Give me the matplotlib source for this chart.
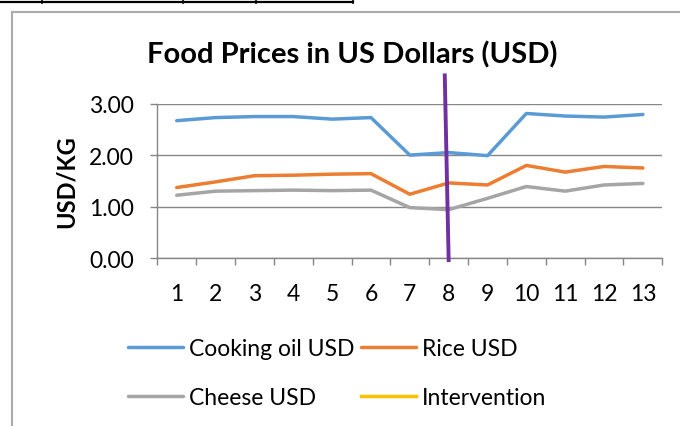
import matplotlib
matplotlib.use("Agg")
import matplotlib.pyplot as plt
from matplotlib.lines import Line2D

# data (USD per kg, periods 1..13)
periods = list(range(1, 14))
cooking_oil = [2.67, 2.73, 2.75, 2.75, 2.70, 2.73, 2.00, 2.05, 1.99, 2.81, 2.76, 2.74, 2.79]
rice = [1.37, 1.48, 1.60, 1.61, 1.63, 1.64, 1.24, 1.46, 1.42, 1.80, 1.67, 1.78, 1.75]
cheese = [1.22, 1.30, 1.31, 1.32, 1.31, 1.32, 0.98, 0.94, 1.16, 1.39, 1.30, 1.42, 1.45]
intervention_period = 8
y_ticks = [0, 1, 2, 3]

plt.rcParams['font.family'] = ['Lato', 'DejaVu Sans']
FS = 16.5

fig = plt.figure(figsize=(6.8, 4.27), dpi=100)
ax = fig.add_axes([0.2313, 0.3934, 0.7427, 0.3614])

l_oil, = ax.plot(periods, cooking_oil, color='#5B9BD5', lw=2.5, label='Cooking oil USD', solid_capstyle='round')
l_rice, = ax.plot(periods, rice, color='#ED7D31', lw=2.5, label='Rice USD', solid_capstyle='round')
l_cheese, = ax.plot(periods, cheese, color='#A5A5A5', lw=2.5, label='Cheese USD', solid_capstyle='round')
# legend entry only, the drawn marker is the purple bar below
l_int, = ax.plot([], [], color='#FFC000', lw=2.5, label='Intervention')

# hand drawn intervention marker
ax.plot([intervention_period - 0.1, intervention_period], [3.55, -0.04],
        color='#7030A0', lw=2.8, clip_on=False, zorder=5)

ax.set_xlim(0.5, 13.5)
ax.set_ylim(0, 3)
ax.set_yticks(y_ticks)
ax.set_yticklabels(['%.2f' % v for v in y_ticks], fontsize=FS)
ax.set_xticks(periods)
ax.set_xticklabels([str(p) for p in periods], fontsize=FS)
ax.set_xticks([p + 0.5 for p in range(0, 14)], minor=True)
ax.tick_params(axis='x', which='major', length=0, pad=18)
ax.tick_params(axis='x', which='minor', length=5, color='#868686', width=1)
ax.tick_params(axis='y', length=5, color='#868686', width=1, pad=12)
ax.grid(axis='y', color='#868686', lw=1)
ax.set_axisbelow(True)
for s in ['top', 'right']:
    ax.spines[s].set_visible(False)
for s in ['left', 'bottom']:
    ax.spines[s].set_color('#868686')
    ax.spines[s].set_linewidth(1)

ax.set_ylabel('USD/KG', fontsize=17, fontweight='bold', labelpad=8)
fig.text(0.518, 0.871, 'Food Prices in US Dollars (USD)', fontsize=21,
         fontweight='bold', ha='center', va='center')

# ncol=2 fills by column, so order handles to read row by row
fig.legend([l_oil, l_cheese, l_rice, l_int],
           ['Cooking oil USD', 'Cheese USD', 'Rice USD', 'Intervention'],
           loc='center', bbox_to_anchor=(0.4956, 0.1241), ncol=2, frameon=False,
           fontsize=FS, handlelength=2.4, handletextpad=0.25, columnspacing=0.3,
           labelspacing=1.25, borderpad=0)

# chart border (left and top visible) and the table edge above it
fig.add_artist(Line2D([11.5 / 680, 11.5 / 680], [0, 1 - 12.5 / 427], color='#ABABAB', lw=1.5))
fig.add_artist(Line2D([11.5 / 680, 1], [1 - 12.5 / 427, 1 - 12.5 / 427], color='#ABABAB', lw=1.5))
fig.add_artist(Line2D([0, 353 / 680], [1 - 2.5 / 427, 1 - 2.5 / 427], color='black', lw=1.6))
for tx in [42, 183, 256, 353]:
    fig.add_artist(Line2D([tx / 680, tx / 680], [1 - 4 / 427, 1], color='black', lw=1.2))

fig.savefig('out.png', dpi=100)
